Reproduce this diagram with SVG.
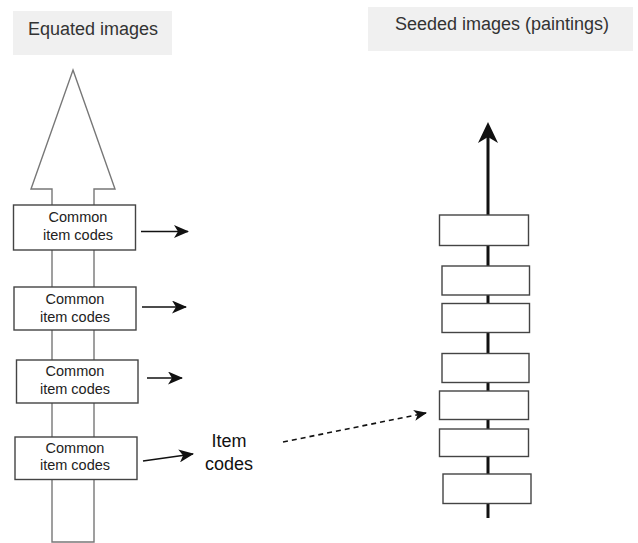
<svg xmlns="http://www.w3.org/2000/svg" width="638" height="543" viewBox="0 0 638 543">
<defs>
<style>
.hdr{fill:#f0f0f0}
.ht{font-family:"Liberation Sans",Arial,sans-serif;font-size:18px;fill:#333;text-anchor:middle}
.bx{fill:#fff;stroke:#444;stroke-width:1.4}
.bt{font-family:"Liberation Sans",Arial,sans-serif;font-size:14.5px;fill:#222;text-anchor:middle}
.ln{stroke:#111;stroke-width:1.6;fill:none}
</style>
<marker id="ah" viewBox="0 0 15 13" refX="14" refY="6.5" markerWidth="15" markerHeight="13" markerUnits="userSpaceOnUse" orient="auto">
<path d="M0,0 L15,6.5 L0,13 L4,6.5 Z" fill="#111"/>
</marker>
<marker id="ah2" viewBox="0 0 13 11" refX="12" refY="5.5" markerWidth="13" markerHeight="11" markerUnits="userSpaceOnUse" orient="auto">
<path d="M0,0 L13,5.5 L0,11 L3.5,5.5 Z" fill="#111"/>
</marker>
</defs>
<rect width="638" height="543" fill="#fff"/>
<g id="hdr-left">
<rect class="hdr" x="13" y="11" width="159" height="44"/>
<text class="ht" x="93" y="35">Equated images</text>
</g>
<g id="hdr-right">
<rect class="hdr" x="368" y="7" width="265" height="44"/>
<text class="ht" x="502" y="30">Seeded images (paintings)</text>
</g>
<g id="big-arrow">
<path d="M73,70 L115,189 L94,189 L94,542 L52,542 L52,189 L31,189 Z" fill="#fff" stroke="#777" stroke-width="1.4"/>
</g>
<g id="spine">
<line x1="488" y1="518" x2="488" y2="130" stroke="#111" stroke-width="3"/>
<path d="M488,122 L498,143 L488,137 L478,143 Z" fill="#111"/>
</g>
<g id="left-box-1">
<rect class="bx" x="13.5" y="205" width="122" height="45"/>
<text class="bt" x="78" y="222">Common</text>
<text class="bt" x="78" y="240">item codes</text>
</g>
<g id="left-box-2">
<rect class="bx" x="14" y="287" width="122" height="43"/>
<text class="bt" x="75" y="304">Common</text>
<text class="bt" x="75" y="322">item codes</text>
</g>
<g id="left-box-3">
<rect class="bx" x="16.5" y="360" width="121.5" height="43"/>
<text class="bt" x="75" y="376">Common</text>
<text class="bt" x="75" y="394">item codes</text>
</g>
<g id="left-box-4">
<rect class="bx" x="15" y="437" width="122" height="42.5"/>
<text class="bt" x="75" y="453">Common</text>
<text class="bt" x="75" y="470">item codes</text>
</g>
<g id="item-codes">
<text x="229" y="447" font-family="'Liberation Sans',Arial,sans-serif" font-size="18" fill="#111" text-anchor="middle">Item</text>
<text x="229" y="470" font-family="'Liberation Sans',Arial,sans-serif" font-size="18" fill="#111" text-anchor="middle">codes</text>
</g>
<g id="right-boxes">
<rect class="bx" x="439.5" y="215" width="89" height="30.5"/>
<rect class="bx" x="442" y="266" width="87.5" height="29"/>
<rect class="bx" x="442" y="303.5" width="87.5" height="29"/>
<rect class="bx" x="442" y="353.5" width="87" height="29"/>
<rect class="bx" x="439.5" y="391" width="89" height="28.5"/>
<rect class="bx" x="439.5" y="429" width="89" height="27.5"/>
<rect class="bx" x="443" y="474" width="88" height="29.5"/>
</g>
<g id="connectors">
<line class="ln" x1="141" y1="231.5" x2="188" y2="231.5" marker-end="url(#ah)"/>
<line class="ln" x1="142" y1="307" x2="186" y2="307" marker-end="url(#ah)"/>
<line class="ln" x1="147" y1="378" x2="182" y2="378" marker-end="url(#ah)"/>
<line class="ln" x1="143" y1="461" x2="193" y2="454" marker-end="url(#ah)"/>
<line class="ln" x1="283" y1="442" x2="426" y2="413" stroke-dasharray="5,4" stroke-width="1.3" marker-end="url(#ah2)"/>
</g>
</svg>
